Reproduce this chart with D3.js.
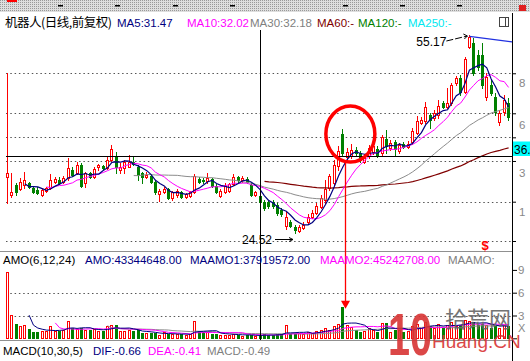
<!DOCTYPE html>
<meta charset="utf-8">
<script src="https://cdn.jsdelivr.net/npm/d3@7/dist/d3.min.js"></script>
<style>
body { margin: 0; background: #fff; }
svg { display: block; font-family: "Liberation Sans", Arial, sans-serif; }
.grid { stroke: #555; stroke-dasharray: 1.5,2.8; }
</style>
<body>
<script>
var w = 530, h = 361;

// daily candles, 前复权
var opens = [33.18,30.34,31.89,31.22,31.89,32.16,31.47,31.12,30.34,30.96,
  31.38,32.31,32.67,32.31,32.93,34.22,33.71,35.00,32.16,33.71,
  33.09,34.64,34.89,34.48,35.77,36.39,34.22,34.48,34.73,35.51,
  34.73,33.71,33.09,33.29,32.40,30.45,30.76,31.22,29.83,30.34,
  30.85,30.08,30.23,30.85,32.87,32.67,32.51,32.82,31.74,30.23,
  30.85,31.01,32.05,33.18,32.67,32.82,31.89,30.34,30.23,29.30,
  29.18,29.18,28.79,28.01,25.53,26.15,25.42,24.75,25.17,26.20,
  26.97,27.59,28.52,29.56,31.43,32.20,34.84,39.81,36.24,36.39,
  37.32,36.86,35.51,36.39,37.01,37.48,36.86,39.03,37.63,38.56,
  37.17,38.33,37.79,38.56,39.96,41.51,41.75,42.75,42.29,42.75,
  44.62,44.00,44.62,47.72,48.50,46.32,53.31,53.93,52.07,52.07,
  45.55,47.41,45.55,41.67,43.22,44.62];
var closes = [33.80,30.76,30.85,32.40,32.67,31.53,30.76,30.60,31.12,31.38,
  32.67,32.82,32.16,32.93,34.48,33.44,35.00,31.74,33.71,33.18,
  34.33,35.00,34.48,35.77,37.48,34.73,34.73,35.51,35.51,35.10,
  33.44,33.09,33.44,32.40,30.76,30.91,31.27,29.83,30.76,31.01,
  30.08,30.45,30.76,33.33,32.40,32.51,33.02,31.78,30.85,31.01,
  31.78,32.05,33.18,32.67,33.02,32.40,30.34,30.76,29.30,28.28,
  28.63,28.56,27.55,27.39,26.93,25.58,24.91,25.37,25.68,26.97,
  27.50,28.68,29.87,31.27,33.29,35.00,37.17,36.86,37.01,37.40,
  36.86,35.77,36.28,37.63,37.94,36.55,39.34,37.94,38.41,37.48,
  38.10,37.79,38.25,40.27,41.82,41.98,44.00,41.98,43.06,44.15,
  44.00,44.62,47.41,48.50,46.32,51.44,54.86,49.27,50.20,47.41,
  48.65,46.17,43.22,43.06,45.08,42.44];
var highs = [49.23,33.71,32.25,32.93,33.96,32.40,31.63,31.63,31.22,31.63,
  33.60,33.18,33.18,33.33,36.04,34.73,35.41,35.26,33.96,33.86,
  34.73,35.15,35.04,36.28,38.10,36.97,35.26,35.77,36.55,36.39,
  35.00,33.96,33.96,33.44,32.67,31.22,31.63,31.38,30.91,31.22,
  31.01,30.60,30.96,33.60,33.09,33.02,33.71,32.93,32.00,31.22,
  32.16,32.25,33.55,33.29,33.33,33.18,32.16,30.91,30.60,29.56,
  29.56,29.49,29.10,28.32,27.70,26.46,25.68,25.68,26.15,27.39,
  28.01,29.10,30.34,32.67,33.60,35.77,37.94,40.58,37.63,38.33,
  37.79,37.17,36.70,38.10,38.41,37.94,39.65,40.43,38.87,38.87,
  38.41,38.56,38.72,40.74,42.60,42.44,44.77,43.06,43.53,45.08,
  44.93,46.94,47.72,48.81,48.96,51.75,55.17,54.70,52.84,53.93,
  49.27,48.19,46.17,43.53,45.86,45.39];
var lows = [29.05,30.08,30.34,31.12,31.38,31.38,30.60,30.45,30.18,30.76,
  31.22,32.16,32.05,32.16,32.67,33.33,33.60,31.63,31.53,32.93,
  32.93,34.22,34.37,34.33,35.66,33.80,33.71,33.80,34.64,35.00,
  32.67,32.25,32.93,32.25,30.50,29.46,30.60,29.67,29.56,30.08,
  29.92,29.92,30.08,30.60,32.16,32.25,32.16,31.63,30.60,29.98,
  30.70,30.85,31.89,32.40,32.40,32.16,30.23,30.18,29.05,28.01,
  28.32,28.32,27.24,27.08,25.06,25.37,24.52,24.60,24.99,25.99,
  26.77,27.39,28.32,29.10,31.12,31.89,34.22,36.39,35.77,36.08,
  36.55,35.46,35.31,36.08,36.70,36.24,36.55,36.86,37.32,36.39,
  36.86,37.63,37.63,38.25,39.81,41.36,41.51,40.74,41.98,42.29,
  43.84,43.84,44.31,47.41,45.86,46.17,53.15,48.96,49.74,46.94,
  45.08,45.86,42.75,41.20,42.75,41.98];
// 成交额 AMO, 亿元
var amounts = [8.68,3.07,1.88,1.66,1.75,1.22,0.79,0.79,0.96,0.96,
  1.62,0.96,0.96,1.09,2.28,1.32,1.18,1.39,1.09,1.09,
  1.22,0.96,0.96,1.62,1.75,1.75,0.96,0.96,1.09,0.96,
  1.09,0.66,0.66,0.66,0.66,0.43,0.79,0.53,0.53,0.53,
  0.53,0.43,0.53,2.28,0.96,0.79,0.79,0.60,0.55,0.45,
  0.50,0.50,0.55,0.40,0.35,0.38,0.42,0.30,0.4334,0.53,
  0.43,0.43,0.57,0.53,1.75,0.57,0.57,0.70,0.57,0.83,
  0.70,0.96,1.09,1.36,1.09,1.66,1.88,4.16,1.75,1.49,
  1.09,0.87,0.96,1.32,1.09,0.79,2.01,2.01,0.87,1.09,
  1.09,0.83,0.96,1.62,1.88,1.36,2.14,1.62,1.36,1.88,
  1.36,1.75,2.14,1.62,1.75,2.41,2.28,2.14,1.75,1.88,
  1.75,1.36,1.62,1.36,1.75,1.62];

var gridPrices = [49.23, 43.02, 39.29, 35.62, 29.30, 23.20];
var priceLabels = [{p: 47.72, t: "8"}, {p: 41.20, t: "6"}, {p: 33.75, t: "3"}, {p: 27.70, t: "1"}];
var volTicks = [0, 3, 6, 9];
var volGrid = [3, 6];

var cursorIdx = 58.15, cursorPrice = 36.39;
var lowIdx = 66, highIdx = 106;

var red = "#ff0000", green = "#008000";

var svg = d3.select("body").append("svg").attr("width", w).attr("height", h);

var x = d3.scaleLinear().domain([0, 115]).range([7.3, 508.6]);
var y = d3.scaleLinear().domain([24.52, 55.17]).range([232.5, 35]);
var yv = d3.scaleLinear().domain([0, 9]).range([338.3, 269.9]);

function movingAvg(vals, n) {
  return vals.map(function(v, i) {
    if (i < n - 1) return null;
    return d3.mean(vals.slice(i - n + 1, i + 1));
  });
}

// top strip
var defs = svg.append("defs");
var pat = defs.append("pattern").attr("id", "dots").attr("width", 2).attr("height", 2)
  .attr("patternUnits", "userSpaceOnUse");
pat.append("rect").attr("width", 2).attr("height", 2).attr("fill", "#dedede");
pat.append("rect").attr("width", 1).attr("height", 1).attr("fill", "#999");
svg.append("rect").attr("width", w).attr("height", 12).attr("fill", "url(#dots)");
svg.selectAll(".mark").data([58, 115, 173, 230, 343, 400, 457]).join("rect")
  .attr("x", function(d) { return d; }).attr("y", 5).attr("width", 5).attr("height", 1.5).attr("fill", "#000");
svg.append("rect").attr("x", 7).attr("y", 0).attr("width", 10).attr("height", 2).attr("fill", red);
svg.append("rect").attr("x", 519).attr("y", 5).attr("width", 7).attr("height", 6).attr("fill", "#e02020");

// title row
var title = [
  {t: "MA5:31.47", x: 117, c: "#000080"},
  {t: "MA10:32.02", x: 187, c: "#ff00ff"},
  {t: "MA30:32.18", x: 250, c: "#808080"},
  {t: "MA60:-", x: 317, c: "#800000"},
  {t: "MA120:-", x: 358, c: "#008000"},
  {t: "MA250:-", x: 408, c: "#00e8f0"}
];
svg.append("text").attr("x", 5).attr("y", 26.5)
  .attr("font-family", "'Noto Sans CJK SC', sans-serif").attr("font-size", 12.5)
  .attr("textLength", 107).attr("lengthAdjust", "spacing")
  .text("机器人(日线,前复权)");
svg.selectAll(".ttl").data(title).join("text")
  .attr("x", function(d) { return d.x; }).attr("y", 26.5)
  .attr("font-size", 11.5).attr("fill", function(d) { return d.c; })
  .text(function(d) { return d.t; });
svg.append("rect").attr("x", 499.5).attr("y", 17.5).attr("width", 9).attr("height", 9)
  .attr("fill", "none").attr("stroke", "#444");
svg.append("line").attr("x1", 505.5).attr("x2", 505.5).attr("y1", 18).attr("y2", 26)
  .attr("stroke", "#444");

// grid
var plotL = 6, plotR = 512;
svg.selectAll(".gp").data(gridPrices).join("line").attr("class", "grid")
  .attr("x1", plotL).attr("x2", plotR)
  .attr("y1", function(d) { return Math.round(y(d)) + 0.5; })
  .attr("y2", function(d) { return Math.round(y(d)) + 0.5; });
svg.selectAll(".gv").data(volGrid).join("line").attr("class", "grid")
  .attr("x1", plotL).attr("x2", plotR)
  .attr("y1", function(d) { return Math.round(yv(d)) + 0.5; })
  .attr("y2", function(d) { return Math.round(yv(d)) + 0.5; });

// panel separators
svg.selectAll(".sep").data([251.5, 340.5]).join("line")
  .attr("x1", 0).attr("x2", plotR).attr("y1", function(d) { return d; }).attr("y2", function(d) { return d; })
  .attr("stroke", "#909090");

var bars = d3.range(opens.length).map(function(i) {
  return {i: i, o: opens[i], c: closes[i], h: highs[i], l: lows[i], a: amounts[i], up: closes[i] >= opens[i]};
});

// candles
var k = svg.append("g").selectAll("g").data(bars).join("g");
k.each(function(d) {
  var g = d3.select(this);
  var cx = Math.floor(x(d.i)) + 0.5;
  var top = Math.round(y(Math.max(d.o, d.c))) + 0.5;
  var bot = Math.round(y(Math.min(d.o, d.c))) + 0.5;
  if (bot - top < 1) bot = top + 1;
  var hi = Math.round(y(d.h)), lo = Math.round(y(d.l)) + 1;
  if (d.up) {
    g.append("line").attr("x1", cx).attr("x2", cx).attr("y1", hi).attr("y2", top).attr("stroke", red);
    g.append("line").attr("x1", cx).attr("x2", cx).attr("y1", bot).attr("y2", lo).attr("stroke", red);
    g.append("rect").attr("x", cx - 1).attr("y", top).attr("width", 2).attr("height", bot - top)
      .attr("fill", "#fff").attr("stroke", red);
  } else {
    g.append("line").attr("x1", cx).attr("x2", cx).attr("y1", hi).attr("y2", lo).attr("stroke", green);
    g.append("rect").attr("x", cx - 1.5).attr("y", top - 0.5).attr("width", 3).attr("height", bot - top + 1)
      .attr("fill", green);
  }
});

// volume bars
var base = Math.round(yv(0)) + 0.5;
var v = svg.append("g").selectAll("g").data(bars).join("g");
v.each(function(d) {
  var g = d3.select(this);
  var cx = Math.floor(x(d.i)) + 0.5;
  var top = Math.min(Math.round(yv(d.a)) + 0.5, base - 1);
  if (d.up) {
    g.append("rect").attr("x", cx - 1).attr("y", top).attr("width", 2).attr("height", base - top)
      .attr("fill", "#fff").attr("stroke", red);
  } else {
    g.append("rect").attr("x", cx - 1.5).attr("y", top - 0.5).attr("width", 3).attr("height", base - top + 1)
      .attr("fill", green);
  }
});

// moving averages
function maLine(vals, scale, color, width) {
  svg.append("path").datum(vals)
    .attr("fill", "none").attr("stroke", color).attr("stroke-width", width)
    .attr("d", d3.line()
      .defined(function(d) { return d != null; })
      .x(function(d, i) { return x(i); })
      .y(function(d) { return scale(d); }));
}
maLine(movingAvg(closes, 60), y, "#800000", 1.2);
maLine(movingAvg(closes, 30), y, "#8c8c8c", 1);
maLine(movingAvg(closes, 10), y, "#ff00ff", 1);
maLine(movingAvg(closes, 5), y, "#000080", 1.2);
maLine(movingAvg(amounts, 24), yv, "#8c8c8c", 1);
maLine(movingAvg(amounts, 12), yv, "#ff00ff", 1);
maLine(movingAvg(amounts, 6), yv, "#000080", 1);

// right axis
svg.append("line").attr("x1", plotR + 0.5).attr("x2", plotR + 0.5).attr("y1", 13).attr("y2", h)
  .attr("stroke", "#000");
var ax = svg.append("g").attr("transform", "translate(" + plotR + ",0)")
  .call(d3.axisRight(y).tickValues(gridPrices).tickSize(4).tickFormat(""));
ax.select(".domain").remove();
svg.selectAll(".pl").data(priceLabels).join("text")
  .attr("x", 519).attr("y", function(d) { return y(d.p); }).attr("dy", "0.35em")
  .attr("font-size", 11.5).attr("fill", "#888").text(function(d) { return d.t; });
var vax = svg.append("g").attr("transform", "translate(" + plotR + ",0)")
  .call(d3.axisRight(yv).tickValues(volTicks).tickSize(5).tickPadding(1)
    .tickFormat(function(d) { return d ? String(d) : ""; }));
vax.select(".domain").remove();
vax.selectAll("text").attr("font-size", 11.5).attr("fill", "#888").attr("font-family", "'Liberation Sans', Arial");
svg.append("text").attr("x", 518).attr("y", yv(1.35)).attr("dy", "0.35em")
  .attr("font-size", 11).attr("fill", "#888").text("X");

// cursor cross
svg.append("line").attr("x1", Math.floor(x(cursorIdx)) + 0.5).attr("x2", Math.floor(x(cursorIdx)) + 0.5)
  .attr("y1", 30).attr("y2", 340).attr("stroke", "#000");
var cy = Math.round(y(cursorPrice)) + 0.5;
svg.append("line").attr("x1", plotL).attr("x2", plotR).attr("y1", cy).attr("y2", cy).attr("stroke", "#000");
svg.append("rect").attr("x", plotR + 1).attr("y", cy - 15).attr("width", w - plotR).attr("height", 14.5)
  .attr("fill", "#00ffff");
svg.append("text").attr("x", 514).attr("y", cy - 3).attr("font-size", 12).text(cursorPrice.toFixed(2));

// annotations
var lowX = x(lowIdx), lowY = y(24.52);
svg.append("text").attr("x", lowX - 53).attr("y", lowY + 11).attr("font-size", 12).text("24.52");
svg.append("path").attr("fill", "none").attr("stroke", "#000")
  .attr("d", "M" + (lowX - 20) + "," + (lowY + 7) + "H" + (lowX - 2) +
    "M" + (lowX - 6) + "," + (lowY + 5) + "L" + (lowX - 2) + "," + (lowY + 7) + "L" + (lowX - 6) + "," + (lowY + 9));

var hiX = x(highIdx), hiY = y(55.17);
svg.append("text").attr("x", hiX - 53).attr("y", hiY + 11).attr("font-size", 12).text("55.17");
svg.append("path").attr("fill", "none").attr("stroke", "#000").attr("stroke-dasharray", "7,2")
  .attr("d", "M" + (hiX - 23) + "," + (hiY + 6) + "L" + (hiX - 2) + "," + (hiY + 1));
svg.append("path").attr("fill", "none").attr("stroke", "#000")
  .attr("d", "M" + (hiX - 6) + "," + (hiY - 1) + "L" + (hiX - 2) + "," + (hiY + 1) + "L" + (hiX - 5) + "," + (hiY + 4));

// trend line from the top
var trend = [[106, 54.95], [115.8, 54.1]];
svg.append("path").datum(trend).attr("fill", "none").attr("stroke", "#2030e0").attr("stroke-width", 1.3)
  .attr("d", d3.line().x(function(d) { return x(d[0]); }).y(function(d) { return y(d[1]); }));

// red circle + arrow down to the amount bar
svg.append("ellipse").attr("cx", x(78.7)).attr("cy", y(39.8)).attr("rx", 24.5).attr("ry", 28)
  .attr("fill", "none").attr("stroke", red).attr("stroke-width", 3.5);
var ax0 = Math.round(x(77) + 2.5) + 0.5;
var tip = yv(amounts[77]) + 2;
svg.append("line").attr("x1", ax0).attr("x2", ax0).attr("y1", y(35.3)).attr("y2", tip - 6)
  .attr("stroke", red).attr("stroke-width", 1.3);
svg.append("path").attr("fill", red)
  .attr("d", "M" + (ax0 - 4.5) + "," + (tip - 8) + "H" + (ax0 + 4.5) + "L" + ax0 + "," + tip + "Z");

svg.append("text").attr("x", x(109.6)).attr("y", 250).attr("text-anchor", "middle")
  .attr("font-size", 13).attr("font-weight", "bold").attr("fill", red).text("$");

// panel titles
var amoTitle = [
  {t: "AMO(6,12,24)", x: 3, c: "#000"},
  {t: "AMO:43344648.00", x: 85, c: "#000080"},
  {t: "MAAMO1:37919572.00", x: 190, c: "#000080"},
  {t: "MAAMO2:45242708.00", x: 320, c: "#ff00ff"},
  {t: "MAAMO:", x: 448, c: "#808080"}
];
var macdTitle = [
  {t: "MACD(10,30,5)", x: 3, c: "#000"},
  {t: "DIF:-0.66", x: 93, c: "#000080"},
  {t: "DEA:-0.41", x: 148, c: "#ff00ff"},
  {t: "MACD:-0.49", x: 207, c: "#808080"}
];
svg.selectAll(".at").data(amoTitle).join("text")
  .attr("x", function(d) { return d.x; }).attr("y", 264).attr("font-size", 11.5)
  .attr("fill", function(d) { return d.c; }).text(function(d) { return d.t; });
svg.selectAll(".mt").data(macdTitle).join("text")
  .attr("x", function(d) { return d.x; }).attr("y", 355).attr("font-size", 11.5)
  .attr("fill", function(d) { return d.c; }).text(function(d) { return d.t; });

// watermark
var wm = svg.append("g").attr("opacity", 0.9);
wm.append("text").attr("x", 388).attr("y", 355).attr("font-size", 60).attr("font-weight", "bold")
  .attr("textLength", 44).attr("lengthAdjust", "spacingAndGlyphs").attr("fill", "#d83434").text("10");
wm.append("text").attr("x", 445).attr("y", 327).attr("font-size", 22)
  .attr("font-family", "'Noto Sans CJK SC', sans-serif").attr("fill", "#666").text("拾荒网");
wm.append("text").attr("x", 432).attr("y", 348).attr("font-size", 19).attr("fill", "#d83434").text("Huang.CN");
</script>
</body>
